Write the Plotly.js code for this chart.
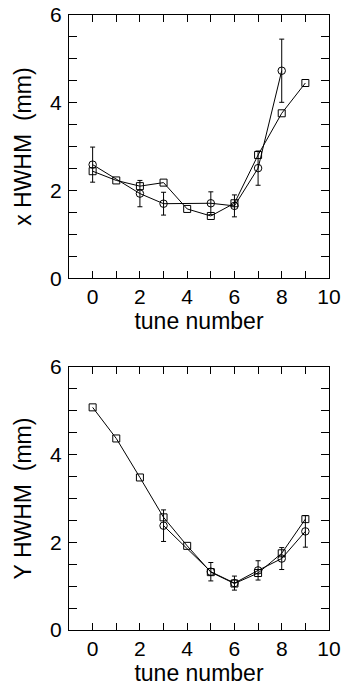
<!DOCTYPE html>
<html>
<head>
<meta charset="utf-8">
<script src="https://cdn.plot.ly/plotly-3.0.1.min.js"></script>
<style>html,body{margin:0;padding:0;background:#fff;}#chart{width:346px;height:686px;}</style>
</head>
<body>
<div id="chart"></div>
<script>
// Top panel: x HWHM
const topSqX = [0,1,2,3,4,5,6,7,8,9];
const topSqY = [2.44,2.23,2.10,2.18,1.58,1.42,1.71,2.81,3.76,4.45];
const topCiX = [0,2,3,5,6,7,8];
const topCiY = [2.59,1.93,1.70,1.71,1.65,2.51,4.73];
const topCiErr = [0.40,0.30,0.26,0.26,0.25,0.39,0.72];
// Bottom panel: Y HWHM
const botSqX = [0,1,2,3,4,5,6,7,8,9];
const botSqY = [5.08,4.37,3.48,2.57,1.92,1.32,1.06,1.30,1.75,2.53];
const botCiX = [3,5,6,7,8,9];
const botCiY = [2.38,1.33,1.07,1.36,1.63,2.25];
const botCiErr = [0.36,0.21,0.16,0.22,0.25,0.36];
// Axis ticks
const xTickVals = [0,1,2,3,4,5,6,7,8,9,10];
const xTickText = ['0','','2','','4','','6','','8','','10'];
const yTickVals = [0,0.5,1,1.5,2,2.5,3,3.5,4,4.5,5,5.5,6];
const yTickText = ['0','','','','2','','','','4','','','','6'];

const lineStyle = {color:'#000', width:1};
function sq(x,y,xa,ya){return {x:x,y:y,xaxis:xa,yaxis:ya,type:'scatter',mode:'lines+markers',
  line:lineStyle,marker:{symbol:'square-open',size:7,color:'#000',line:{width:1,color:'#000'}},showlegend:false,hoverinfo:'skip'};}
function ci(x,y,e,xa,ya){return {x:x,y:y,xaxis:xa,yaxis:ya,type:'scatter',mode:'lines+markers',
  line:lineStyle,marker:{symbol:'circle-open',size:7.5,color:'#000',line:{width:1,color:'#000'}},
  error_y:{type:'data',array:e,visible:true,color:'#000',thickness:1,width:2.5},showlegend:false,hoverinfo:'skip'};}

const data = [
  sq(topSqX,topSqY,'x','y'),
  ci(topCiX,topCiY,topCiErr,'x','y'),
  sq(botSqX,botSqY,'x2','y2'),
  ci(botCiX,botCiY,botCiErr,'x2','y2')
];
const font = {family:'"Liberation Sans", Arial, sans-serif', color:'#000'};
function xax(anchor){return {anchor:anchor,range:[-1,10],tickmode:'array',tickvals:xTickVals,ticktext:xTickText,
  ticks:'inside',ticklen:7,tickwidth:1,tickcolor:'#000',showline:true,linecolor:'#000',linewidth:1,mirror:'ticks',
  showgrid:false,zeroline:false,tickfont:{size:21},title:{text:'tune number',font:{size:23},standoff:2},automargin:false};}
function yax(anchor,domain,title){return {anchor:anchor,domain:domain,range:[0,6],tickmode:'array',tickvals:yTickVals,ticktext:yTickText,
  ticks:'inside',ticklen:8,tickwidth:1,tickcolor:'#000',showline:true,linecolor:'#000',linewidth:1,mirror:'ticks',
  showgrid:false,zeroline:false,tickfont:{size:21},ticklabelstandoff:2,title:{text:title,font:{size:23},standoff:12},automargin:false};}

const layout = {
  width:346,height:686,
  margin:{l:69,r:17,t:15,b:56},
  paper_bgcolor:'#fff',plot_bgcolor:'#fff',
  font:font,
  xaxis:xax('y'),
  yaxis:yax('x',[0.5719,1],'x HWHM\u00a0\u00a0(mm)'),
  xaxis2:xax('y2'),
  yaxis2:yax('x2',[0,0.4276],'Y HWHM\u00a0\u00a0(mm)')
};
Plotly.newPlot('chart',data,layout,{staticPlot:true,displayModeBar:false});
</script>
</body>
</html>
